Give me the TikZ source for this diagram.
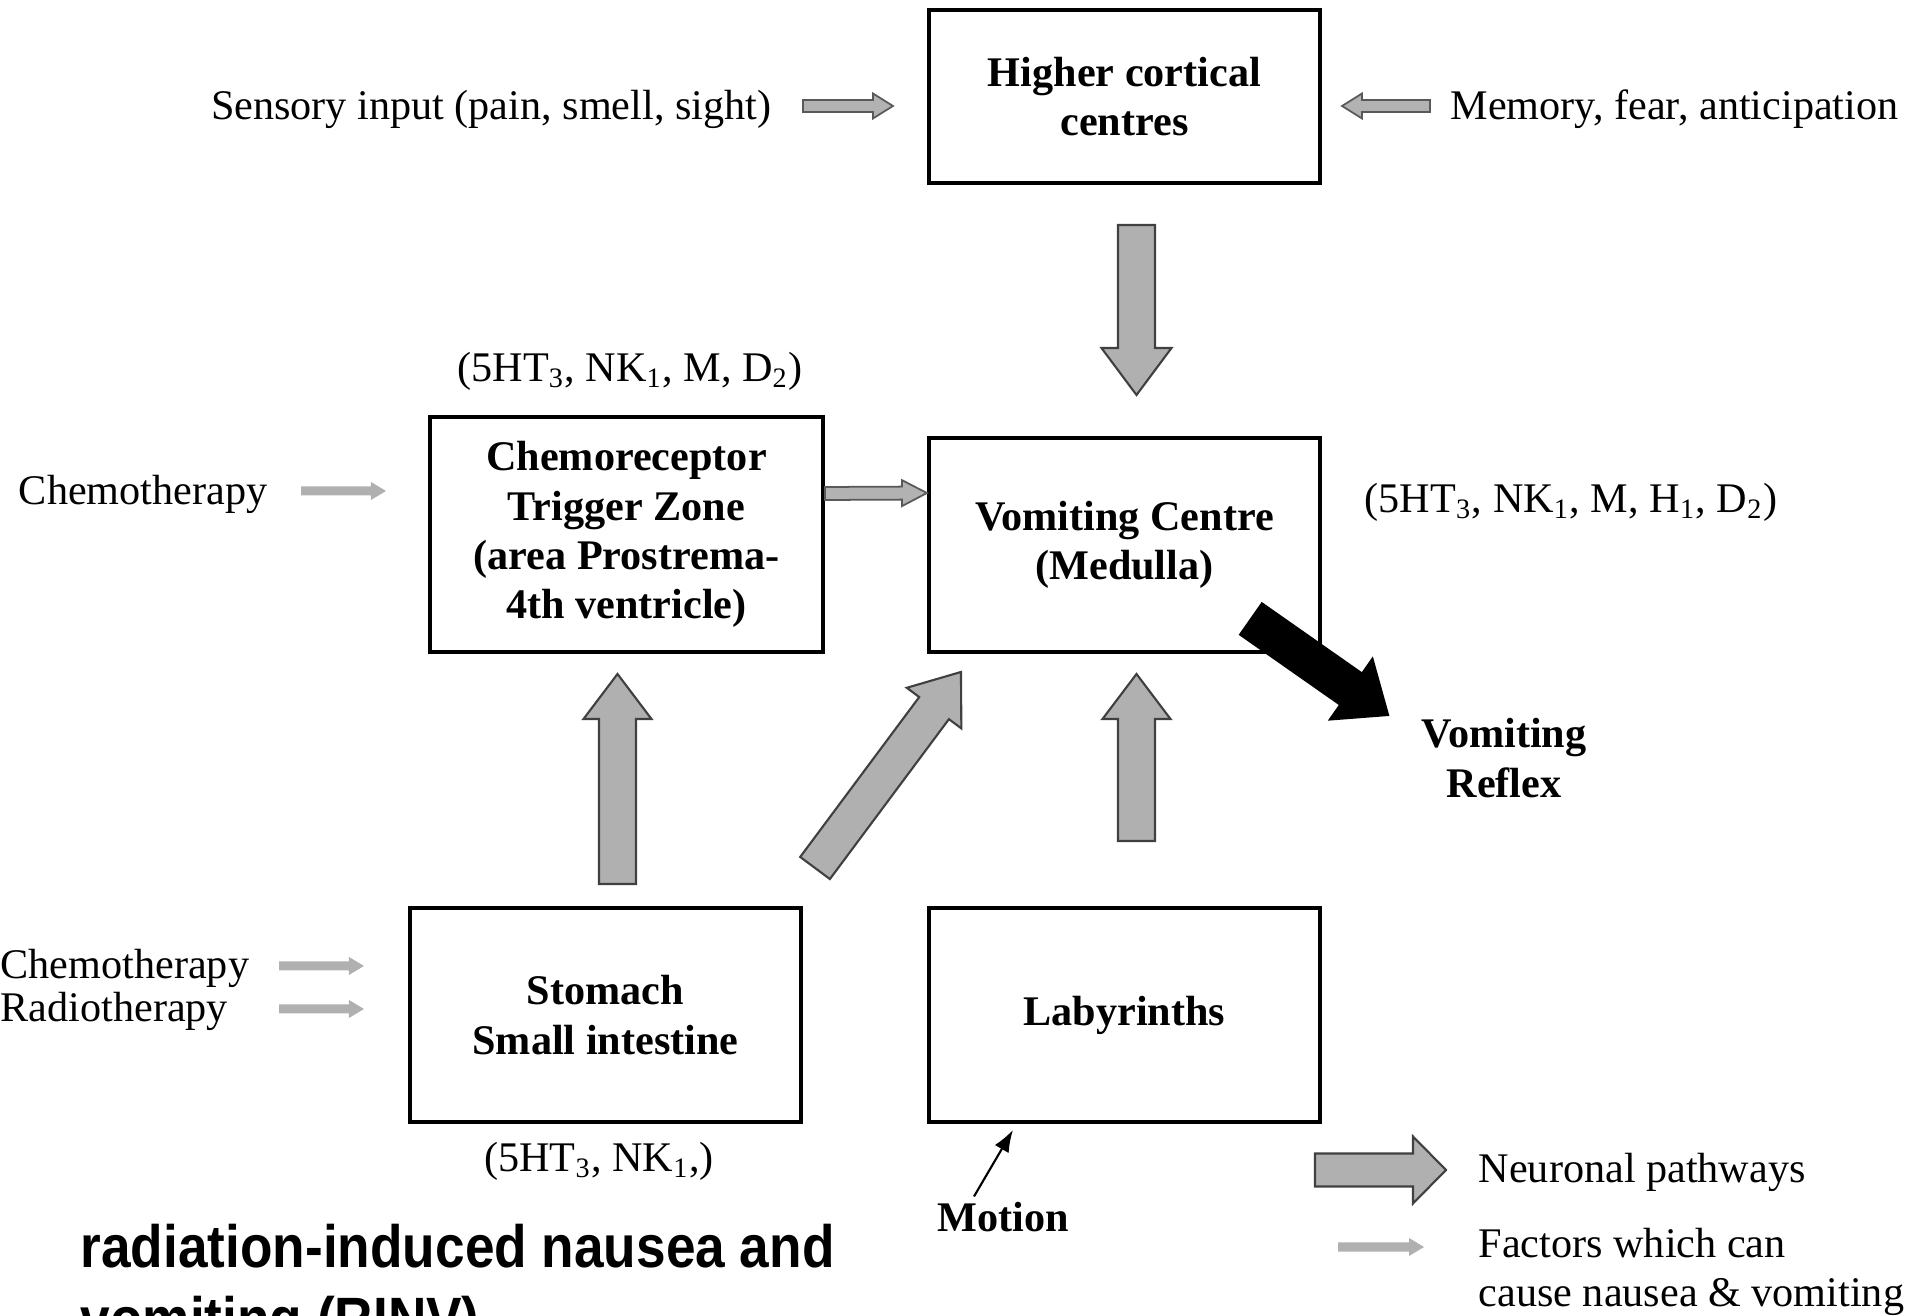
\documentclass[tikz,border=0pt]{standalone}
\usepackage{fontspec}
\setmainfont{Liberation Serif}
\newfontfamily\rinvfont[FakeStretch=0.89]{Liberation Sans}
\usetikzlibrary{calc,arrows.meta}

% block arrow: [style]{tail}{tip}{half shaft}{half head}{head length}
\newcommand{\fatarrow}[6][]{%
  \coordinate (fa base) at ($#3!#6!#2$);
  \draw[#1] ($#2!#4!90:#3$) -- ($(fa base)!#4!90:#3$) -- ($(fa base)!#5!90:#3$) -- #3
    -- ($(fa base)!#5!-90:#3$) -- ($(fa base)!#4!-90:#3$) -- ($#2!#4!-90:#3$) -- cycle;
}

\tikzset{
  box/.style={draw, line width=1.1pt, align=center, inner sep=0pt,
    font=\bfseries\fontsize{12}{14}\selectfont},
  txt/.style={inner sep=0pt, align=center, font=\fontsize{12}{14}\selectfont},
  neural/.style={fill=gray!62, draw=black!75, line width=0.6pt},
  reflexarrow/.style={fill=black, draw=black, line width=0.6pt},
  smallarrow/.style={fill=gray!60, draw=black!65, line width=0.5pt},
  factor/.style={fill=gray!62, draw=none},
}

\begin{document}
\begin{tikzpicture}[x=0.01cm, y=-0.01cm]
    \useasboundingbox (0,0) rectangle (1917,1316);
    \clip (0,0) rectangle (1917,1316);

    % Boxes
    \node[box, minimum width=3.91cm, minimum height=1.73cm] (hc) at (1124.5,96.5) {Higher cortical\\centres};
    \node[box, minimum width=3.93cm, minimum height=2.35cm] (ctz) at (626.5,534.5) {Chemoreceptor\\Trigger Zone\\(area Prostrema-\\4th ventricle)};
    \node[box, minimum width=3.91cm, minimum height=2.14cm] (vc) at (1124.5,545) {Vomiting Centre\\(Medulla)};
    \node[box, minimum width=3.91cm, minimum height=2.14cm] (stomach) at (605.5,1015) {Stomach\\Small intestine};
    \node[box, minimum width=3.91cm, minimum height=2.14cm] (lab) at (1124.5,1015) {Labyrinths};

    % Texts
    \node[txt, anchor=east] (sensory) at (772,109) {Sensory input (pain, smell, sight)};
    \node[txt, anchor=west] (memory) at (1450,109) {Memory, fear, anticipation};
    \node[txt] (ctzrec) at (630,371) {(5HT\textsubscript{3}, NK\textsubscript{1}, M, D\textsubscript{2})};
    \node[txt] (vcrec) at (1571,502) {(5HT\textsubscript{3}, NK\textsubscript{1}, M, H\textsubscript{1}, D\textsubscript{2})};
    \node[txt] (strec) at (599,1161) {(5HT\textsubscript{3}, NK\textsubscript{1},)};
    \node[txt, anchor=east] (chemoA) at (268,494) {Chemotherapy};
    \node[txt, anchor=west] (chemoB) at (0,968) {Chemotherapy};
    \node[txt, anchor=west] (radio) at (0,1011) {Radiotherapy};
    \node[txt, font=\bfseries\fontsize{12}{14}\selectfont] (reflex) at (1504,758) {Vomiting\\Reflex};
    \node[txt, font=\bfseries\fontsize{12}{14}\selectfont] (motion) at (1003,1217) {Motion};
    \node[txt, anchor=west] (legA) at (1478,1172) {Neuronal pathways};
    \node[txt, anchor=west, align=left] (legB) at (1478,1272) {Factors which can\\cause nausea \& vomiting};
    \node[anchor=north west, inner sep=0pt, align=left,
      font=\rinvfont\bfseries\fontsize{17}{20.5}\selectfont] (rinv) at (80,1223)
      {radiation-induced nausea and\\vomiting (RINV)};

    % Neuronal pathways
    \fatarrow[neural]{($(hc.south)+(12,40)$)}{($(vc.north)+(12,-41)$)}{0.185cm}{0.35cm}{0.47cm}
    \fatarrow[neural]{($(stomach.north)+(12,-22)$)}{($(ctz.south)+(-9,20)$)}{0.185cm}{0.34cm}{0.45cm}
    \fatarrow[neural]{($(stomach.north east)+(12,-38)$)}{($(vc.south west)+(34,18)$)}{0.185cm}{0.34cm}{0.45cm}
    \fatarrow[neural]{($(lab.north)+(12,-65)$)}{($(vc.south)+(12,20)$)}{0.185cm}{0.34cm}{0.45cm}
    \fatarrow[reflexarrow]{($(vc.south east)+(-71,-35)$)}{($(vc.south east)+(66,61)$)}{0.19cm}{0.37cm}{0.45cm}
    \fatarrow[smallarrow]{($(ctz.east)+(0,-41)$)}{($(vc.west)+(0,-52)$)}{0.065cm}{0.13cm}{0.25cm}
    \fatarrow[smallarrow]{($(sensory.east)+(31,-3)$)}{($(sensory.east)+(121,-3)$)}{0.06cm}{0.125cm}{0.2cm}
    \fatarrow[smallarrow]{($(memory.west)+(-20,-3)$)}{($(memory.west)+(-108,-3)$)}{0.06cm}{0.125cm}{0.2cm}

    % Factors
    \fatarrow[factor]{($(chemoA.east)+(33,-3)$)}{($(chemoA.east)+(118,-3)$)}{0.045cm}{0.09cm}{0.15cm}
    \fatarrow[factor]{($(chemoB.west)+(279,-2)$)}{($(chemoB.west)+(364,-2)$)}{0.045cm}{0.09cm}{0.15cm}
    \fatarrow[factor]{($(radio.west)+(279,-2)$)}{($(radio.west)+(364,-2)$)}{0.045cm}{0.09cm}{0.15cm}
    \draw[line width=0.6pt, -{Latex[length=2.2mm,width=1.6mm]}] ($(motion.north)+(-29,-5)$) -- ($(lab.south west)+(86,6)$);

    % Legend
    \fatarrow[neural]{($(legA.west)+(-163,-2)$)}{($(legA.west)+(-32,-2)$)}{0.165cm}{0.335cm}{0.33cm}
    \fatarrow[factor]{($(legB.west)+(-140,-25)$)}{($(legB.west)+(-54,-25)$)}{0.045cm}{0.09cm}{0.15cm}

\end{tikzpicture}
\end{document}
